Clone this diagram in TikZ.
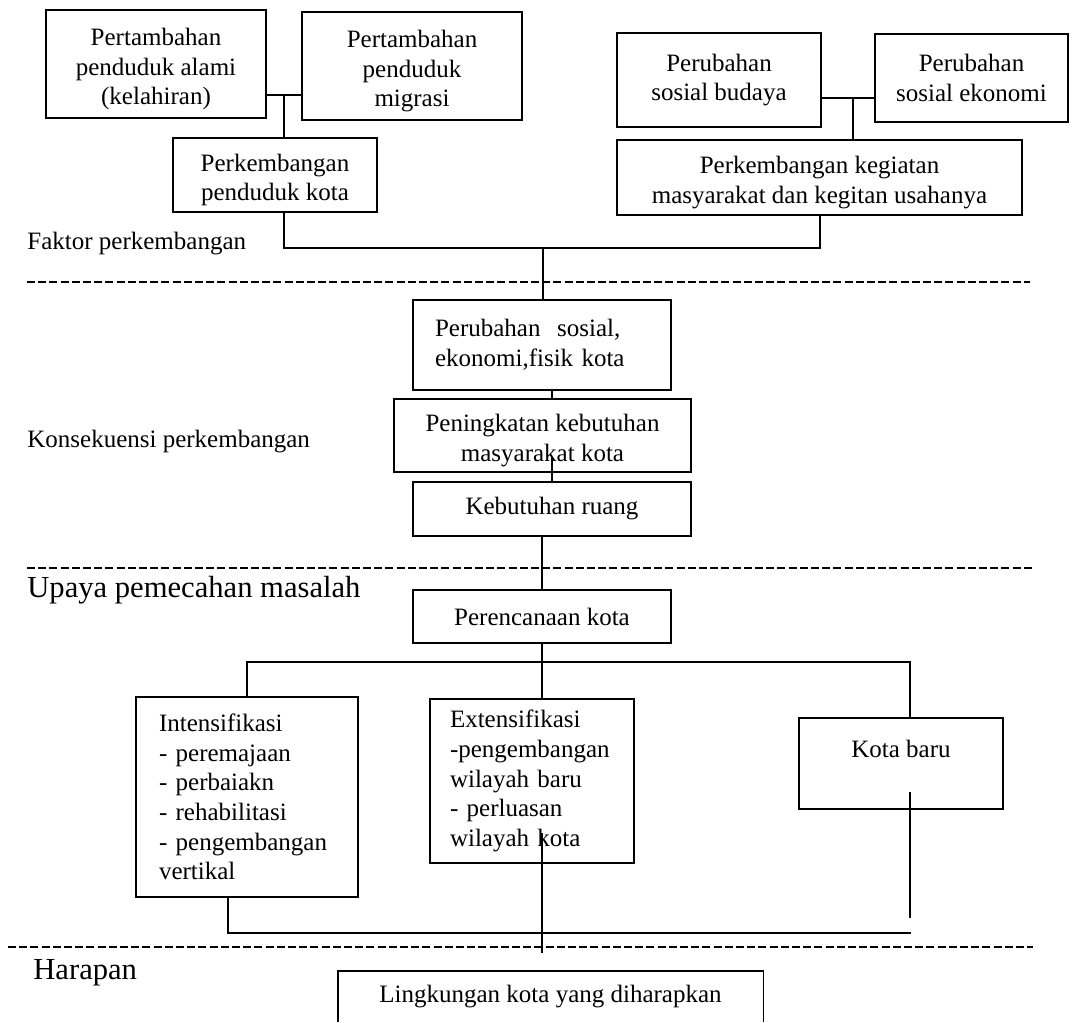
\documentclass[tikz,border=0pt]{standalone}
\usepackage{fontspec}
\setmainfont{Liberation Serif}
\usetikzlibrary{calc}
\newcommand{\myfs}{\fontsize{12.5}{14.8}\selectfont}
\newcommand{\mybig}{\fontsize{15.3}{18}\selectfont}
\newcommand{\dnstrut}{\rule{0pt}{13.8pt}}
\begin{document}
\begin{tikzpicture}[x=0.5pt,y=-0.5pt,
  box/.style={draw, line width=0.9pt, inner sep=0pt, align=center, font=\myfs},
  conn/.style={line width=0.9pt},
  sep/.style={dash pattern=on 4pt off 1.6pt, line width=0.7pt},
  lab/.style={anchor=west, inner sep=0pt, font=\myfs},
  biglab/.style={anchor=west, inner sep=0pt, font=\mybig}]
\useasboundingbox (0,0) rectangle (1074,1022);

% --- top left group
\node[box, minimum width=110pt, minimum height=54pt] (A) at (156,64) {\dnstrut Pertambahan\\penduduk alami\\(kelahiran)};
\node[box, minimum width=110pt, minimum height=54pt] (B) at (412,66) {\dnstrut Pertambahan\\penduduk\\migrasi};
\node[box, minimum width=102pt, minimum height=37pt] (C) at (275,175) {\dnstrut Perkembangan\\penduduk kota};
% --- top right group
\node[box, minimum width=102pt, minimum height=47pt] (D) at (719,80) {Perubahan\\sosial budaya};
\node[box, minimum width=96.5pt, minimum height=44pt] (E) at (971.5,78) {Perubahan\\sosial ekonomi};
\node[box, minimum width=202.5pt, minimum height=37.5pt] (F) at (819.5,177.5) {\dnstrut Perkembangan kegiatan\\masyarakat dan kegitan usahanya};
% --- middle
\node[box, align=left, text width=107pt, inner xsep=11pt, minimum height=45pt] (G) at (542,345) {Perubahan~~sosial,\\ekonomi,fisik kota};
\node[box, minimum width=148.5pt, minimum height=36.5pt] (H) at (542.5,435.5) {\dnstrut Peningkatan kebutuhan\\masyarakat kota};
\node[box, minimum width=139pt, minimum height=27pt] (I) at (552,509) {Kebutuhan ruang};
\node[box, minimum width=129pt, minimum height=26.5pt] (J) at (542,616.5) {Perencanaan kota};
% --- lower
\node[box, align=left, text width=88pt, inner xsep=11.5pt, minimum height=100pt] (Int) at (247,797) {Intensifikasi\\- peremajaan\\- perbaiakn\\- rehabilitasi\\- pengembangan\\vertikal};
\node[box, align=left, text width=82pt, inner xsep=10pt, minimum height=82pt] (Ext) at (532,781) {Extensifikasi\\-pengembangan\\wilayah baru\\- perluasan\\wilayah kota};
\node[box, minimum width=102pt, minimum height=45.5pt] (K) at (901,763.5) {Kota baru\\~};
\node[inner sep=0pt, align=center, font=\myfs, minimum width=212.5pt, minimum height=25.5pt] (L) at (550.5,996.5) {Lingkungan kota yang diharapkan};
\draw[conn] (L.south west) -- (L.north west) -- (L.north east) -- (L.south east);

% --- section labels
\node[lab] (l1) at (27,244) {Faktor perkembangan};
\node[lab] (l2) at (27,442) {Konsekuensi perkembangan};
\node[biglab] (l3) at (27,590) {Upaya pemecahan masalah};
\node[biglab] (l4) at (33,973) {Harapan};

% --- dashed separators
\draw[sep] (27,282) -- (1030,282);
\draw[sep] (27,568) -- (1033,568);
\draw[sep] (8,947) -- (1033,947);

% --- coordinates
\coordinate (jAB) at (284,95);
\coordinate (jDE) at (853,98);
\coordinate (jTop) at (543,248);
\coordinate (fOut) at (820,248);
\coordinate (hIn) at (552,457);
\coordinate (tL) at (247,662);
\coordinate (tR) at (910,662);
\coordinate (mIn) at (542,833);
\coordinate (mEnd) at (542,953);
\coordinate (bL) at (228,933);
\coordinate (bR) at (911,933);
\coordinate (kIn) at (910,792);
\coordinate (kEnd) at (910,918);

% --- connectors top
\draw[conn] (A.east |- jAB) -- (B.west |- jAB);
\draw[conn] (jAB) -- (jAB |- C.north);
\draw[conn] (D.east |- jDE) -- (E.west |- jDE);
\draw[conn] (jDE) -- (jDE |- F.north);
\draw[conn] (C.south -| jAB) |- (fOut) -- (fOut |- F.south);
\draw[conn] (jTop) -- (jTop |- G.north);
% --- connectors middle
\draw[conn] (G.south -| I.north) -- (H.north -| I.north);
\draw[conn] (I.north) -- (hIn);
\draw[conn] (I.south -| J.north) -- (J.north);
% --- connectors lower
\draw[conn] (J.south) -- (J.south |- Ext.north);
\draw[conn] (Int.north) -- (tL) -- (tR) -- (tR |- K.north);
\draw[conn] (mIn) -- (mEnd);
\draw[conn] (Int.south -| bL) -- (bL) -- (bR);
\draw[conn] (kIn) -- (kEnd);
\end{tikzpicture}
\end{document}
